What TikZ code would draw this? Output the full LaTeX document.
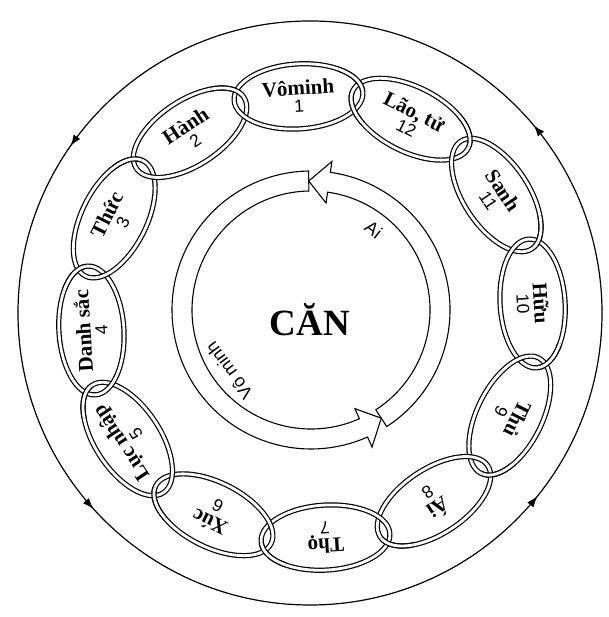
\documentclass[tikz,border=0pt]{standalone}
\usepackage{fontspec}
\setmainfont{Liberation Serif}
\newfontfamily\sofont{Liberation Sans}
\newcommand\chuso{\sofont\mdseries\fontsize{17.5}{17}\selectfont}
\usetikzlibrary{calc,arrows.meta,decorations.markings}
\tikzset{
  >={Latex[length=11pt,width=8pt]},
  matxich/.style  = {draw, line width=1.2pt, double=white, double distance=2.8pt},
  chumat/.style   = {align=center, inner sep=1pt, font=\fontsize{21}{17}\selectfont\bfseries},
  vongngoai/.style= {line width=1.2pt, postaction={decorate},
                     decoration={markings,
                       mark=at position 0.111 with {\arrow{>}},
                       mark=at position 0.403 with {\arrow{>}},
                       mark=at position 0.617 with {\arrow{>}},
                       mark=at position 0.892 with {\arrow{>}}}},
  vongtrong/.style= {draw, fill=white, line width=1.1pt, line join=miter},
  nhan/.style     = {font=\sofont\fontsize{18}{18}\selectfont, inner sep=1pt}
}

\begin{document}
\begin{tikzpicture}[x=1pt, y=1pt]
  \useasboundingbox (0,0) rectangle (608,617);
  \coordinate (tamngoai) at (310,304);
  \coordinate (tamxich) at (312,300);
  \coordinate (tamvong) at (311,307);

  % vong ngoai
  \draw[vongngoai] (tamngoai) circle[radius=292];

  % vong trong: Ai va Vo minh
  \begin{scope}[shift={(tamvong)}]
    \draw[vongtrong] (-57:139) arc[start angle=-57, end angle=82, radius=139]
      -- (82:150) -- (91:129) -- (82:108) -- (82:119)
      arc[start angle=82, end angle=-57, radius=119] -- cycle;
    \draw[vongtrong] (91:139) arc[start angle=91, end angle=294, radius=139]
      -- (294:150) -- (303:129) -- (294:108) -- (294:119)
      arc[start angle=294, end angle=91, radius=119] -- cycle;
    \node[nhan, rotate=-38] (ai) at (52:102) {Ai};
    \node[nhan, rotate=126.5] (vominh) at (216.5:102) {Vô minh};
  \end{scope}
  \node[font=\fontsize{37}{42}\selectfont\bfseries] (can) at (310,297) {CĂN};

  % 12 mat xich
  \foreach \k in {12,11,...,1} {
    \pgfmathsetmacro\goc{93.5+30*(\k-1)}
    \coordinate (m\k) at ($(tamxich)+(\goc:221)$);
    \draw[matxich, shift={(m\k)}, rotate=\goc-90]
      (0,0) ellipse[x radius=64.5, y radius=32.5];
  }
  % moc xich vao nhau
  \foreach \k in {1,...,12} {
    \pgfmathsetmacro\goc{93.5+30*(\k-1)}
    \draw[matxich, shift={(m\k)}, rotate=\goc-90]
      (3:64.5 and 32.5) arc[start angle=3, end angle=50, x radius=64.5, y radius=32.5];
  }
  \draw[matxich, shift={(m12)}, rotate=333.5]
    (183:64.5 and 32.5) arc[start angle=183, end angle=230, x radius=64.5, y radius=32.5];

  \foreach \k/\ten in {1/Vôminh, 2/Hành, 3/Thức, 4/Danh sắc, 5/Lục nhập, 6/Xúc,
                       7/Thọ, 8/Ái, 9/Thủ, 10/Hữu, 11/Sanh, 12/{Lão, tử}} {
    \pgfmathsetmacro\goc{93.5+30*(\k-1)}
    \node[chumat, rotate=\goc-90] (t\k) at (m\k) {\ten\\{\chuso\k}};
  }
\end{tikzpicture}
\end{document}
